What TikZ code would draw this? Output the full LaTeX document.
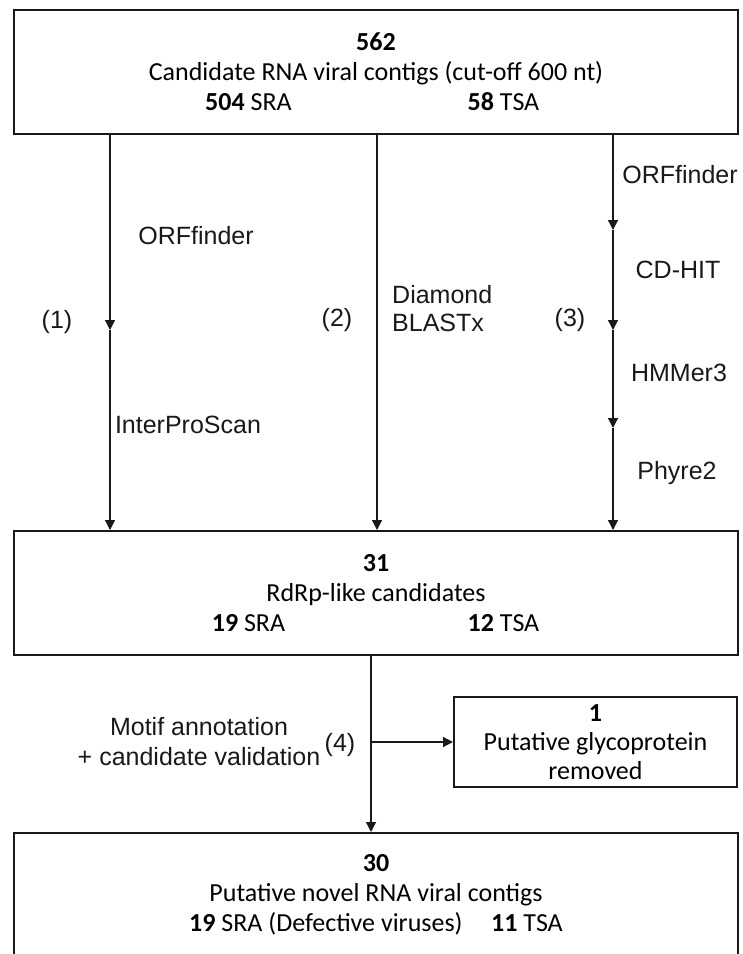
\documentclass[tikz,border=0pt]{standalone}
\usepackage{fontspec}
\setmainfont{Carlito}
\newfontfamily\labelfont{Liberation Sans}
\usetikzlibrary{arrows.meta}

\begin{document}
\begin{tikzpicture}[x=1pt,y=-1pt,
  boxtext/.style={font=\fontsize{26}{30}\selectfont},
  stagebox/.style={boxtext, draw=black!90, line width=2pt, minimum width=724pt,
    minimum height=124pt, inner sep=0pt, align=center},
  sidebox/.style={draw=black!90, line width=2pt, minimum width=283pt,
    minimum height=90pt, inner sep=0pt, align=center,
    font=\fontsize{26}{29}\selectfont},
  tool/.style={font=\labelfont\fontsize{25}{30}\selectfont, inner sep=0pt, text=black!90},
  conn/.style={draw=black!90, line width=1.3pt},
  flow/.style={conn, -{Triangle[length=10pt,width=10pt]}}
]
\useasboundingbox (0,0) rectangle (743,954);
\fill[white] (0,0) rectangle (743,954);

% the three stage boxes and the side box
\node[stagebox] (top) at (376,72) {\textbf{562}\\Candidate RNA viral contigs (cut-off 600 nt)\\
  \makebox[255pt]{\textbf{504} SRA}\makebox[255pt]{\textbf{58} TSA}};
\node[stagebox] (mid) at (376,593) {\textbf{31}\\RdRp-like candidates\\
  \makebox[255pt]{\textbf{19} SRA}\makebox[255pt]{\textbf{12} TSA}};
\node[stagebox] (bot) at (376,895) {\textbf{30}\\Putative novel RNA viral contigs\\
  \textbf{19} SRA (Defective viruses)\hspace{1.1em}\textbf{11} TSA};
\node[sidebox] (glyco) at (595.5,742) {\textbf{1}\\Putative glycoprotein\\removed};

% branch (1)
\coordinate (a1) at (110,330);
\draw[flow] (top.south -| a1) -- (a1);
\draw[flow] (a1) -- (mid.north -| a1);
\node[tool] (l1) at (57,322) {(1)};
\node[tool] (orf1) at (196,236) {ORFfinder};
\node[tool] (ips) at (188,425) {InterProScan};

% branch (2)
\coordinate (b1) at (377,320);
\draw[flow] (top.south -| b1) -- (mid.north -| b1);
\node[tool] (l2) at (337,320) {(2)};
\node[tool, anchor=west, align=left, font=\labelfont\fontsize{25}{28}\selectfont] (dmd) at (392,309) {Diamond\\BLASTx};

% branch (3)
\coordinate (r1) at (613,230);
\coordinate (r2) at (613,330);
\coordinate (r3) at (613,428);
\draw[flow] (top.south -| r1) -- (r1);
\draw[flow] (r1) -- (r2);
\draw[flow] (r2) -- (r3);
\draw[flow] (r3) -- (mid.north -| r3);
\node[tool] (l3) at (570,320) {(3)};
\node[tool] (orf3) at (680,175) {ORFfinder};
\node[tool] (cdh) at (678,270) {CD-HIT};
\node[tool] (hmm) at (679,373) {HMMer3};
\node[tool] (phy) at (677,473) {Phyre2};

% step (4)
\coordinate (d1) at (371,742);
\draw[conn] (mid.south -| d1) -- (d1);
\draw[flow] (d1) -- (glyco.west |- d1);
\draw[flow] (d1) -- (bot.north -| d1);
\node[tool, align=center] (motif) at (199,742) {Motif annotation\\+ candidate validation};
\node[tool] (l4) at (340,745) {(4)};
\end{tikzpicture}
\end{document}
